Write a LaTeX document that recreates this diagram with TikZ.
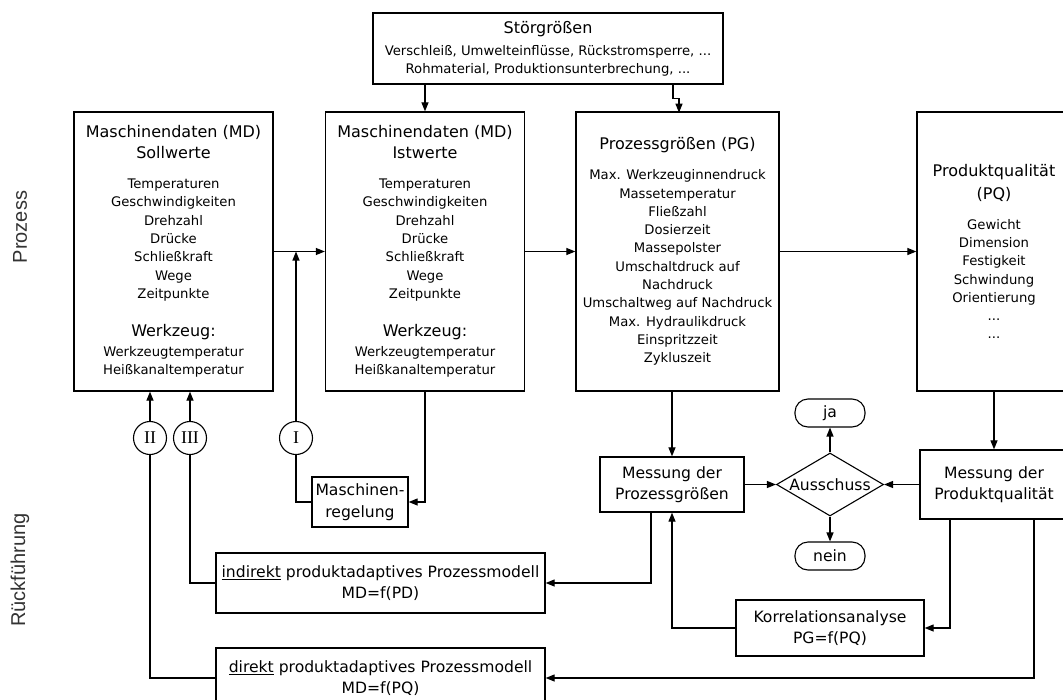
\documentclass[tikz,border=0pt]{standalone}
\usepackage{fontspec}
\setmainfont{DejaVu Sans}
\newfontfamily\seitenfont{Liberation Sans}
\newfontfamily\roemfont{Liberation Serif}
\usetikzlibrary{arrows.meta,shapes.geometric}
\newcommand\klein{\fontsize{13.2}{18.3}\selectfont}
\newcommand\gross{\fontsize{16}{20.7}\selectfont}
\newcommand\mittel{\fontsize{15.6}{21.5}\selectfont}

\begin{document}
\begin{tikzpicture}[x=1pt,y=-1pt,
    feld/.style={draw,line width=1.3pt,align=center,inner sep=0pt,font=\mittel},
    spalte/.style={feld,font=\klein,minimum width=199pt,minimum height=279pt},
    kreis/.style={draw,circle,line width=1.1pt,minimum size=33pt,inner sep=0pt,
      font=\roemfont\fontsize{18}{18}\selectfont},
    raute/.style={draw,diamond,line width=1.1pt,minimum width=107pt,minimum height=63pt,
      inner sep=0pt,font=\mittel},
    ende/.style={draw,line width=1.1pt,rounded corners=13pt,minimum width=70pt,
      minimum height=28pt,inner sep=0pt,font=\mittel},
    seite/.style={rotate=90,text=black!80,font=\seitenfont\fontsize{20}{24}\selectfont}]
  \useasboundingbox (0,0) rectangle (1063,699);
  \node[seite] (prozess) at (20,227) {Prozess};
  \node[seite] (rueck) at (20,570) {Rückführung};
  \node[feld,font=\klein,minimum width=350pt,minimum height=71pt] (stoer) at (548,48.5)
    {{\gross Störgrößen}\\[3.7pt]
     Verschleiß, Umwelteinflüsse, Rückstromsperre, ...\\
     Rohmaterial, Produktionsunterbrechung, ...};
  \node[spalte] (soll) at (173.5,251.5)
    {{\gross Maschinendaten (MD)}\\[2.7pt]
     {\gross Sollwerte}\\[11.7pt]
     Temperaturen\\ Geschwindigkeiten\\ Drehzahl\\ Drücke\\
     Schließkraft\\ Wege\\ Zeitpunkte\\[19.7pt]
     {\gross Werkzeug:}\\[1.7pt]
     Werkzeugtemperatur\\ Heißkanaltemperatur};
  \node[spalte] (ist) at (425,251.5)
    {{\gross Maschinendaten (MD)}\\[2.7pt]
     {\gross Istwerte}\\[11.7pt]
     Temperaturen\\ Geschwindigkeiten\\ Drehzahl\\ Drücke\\
     Schließkraft\\ Wege\\ Zeitpunkte\\[19.7pt]
     {\gross Werkzeug:}\\[1.7pt]
     Werkzeugtemperatur\\ Heißkanaltemperatur};
  \node[spalte,minimum width=203pt] (pg) at (677.5,251.5)
    {{\gross Prozessgrößen (PG)}\\[11.7pt]
     Max. Werkzeuginnendruck\\ Massetemperatur\\ Fließzahl\\ Dosierzeit\\
     Massepolster\\ Umschaltdruck auf\\ Nachdruck\\ Umschaltweg auf Nachdruck\\
     Max. Hydraulikdruck\\ Einspritzzeit\\ Zykluszeit};
  \node[spalte,minimum width=154pt] (pq) at (994,251.5)
    {{\gross Produktqualität}\\[4.7pt]
     {\gross (PQ)}\\[11.7pt]
     Gewicht\\ Dimension\\ Festigkeit\\ Schwindung\\ Orientierung\\ ...\\ ...};
  \node[kreis] (kII) at (150,438) {II};
  \node[kreis] (kIII) at (190,438) {III};
  \node[kreis] (kI) at (296,438) {I};
  \node[feld,minimum width=96pt,minimum height=50pt] (regel) at (360,502)
    {Maschinen-\\regelung};
  \node[feld,minimum width=329pt,minimum height=60pt] (indirekt) at (380.5,583)
    {\underline{indirekt} produktadaptives Prozessmodell\\MD=f(PD)};
  \node[feld,minimum width=329pt,minimum height=60pt] (direkt) at (380.5,678)
    {\underline{direkt} produktadaptives Prozessmodell\\MD=f(PQ)};
  \node[feld,minimum width=144pt,minimum height=55pt] (mpg) at (672,484.5)
    {Messung der\\Prozessgrößen};
  \node[feld,minimum width=148pt,minimum height=69pt] (mpq) at (994,484.5)
    {Messung der\\Produktqualität};
  \node[feld,minimum width=188pt,minimum height=56pt] (korr) at (830,628)
    {Korrelationsanalyse\\PG=f(PQ)};
  \node[raute] (aus) at (830,484.5) {\makebox[0pt]{Ausschuss}};
  \node[ende] (ja) at (830,413) {ja};
  \node[ende] (nein) at (830,556) {nein};
  \begin{scope}[line width=1.2pt,-{Triangle[length=9pt,width=7pt]}]
    \draw (stoer.south -| ist.north) to (ist.north);
    \draw ([xshift=125pt]stoer.south) -- ++(0,14) -- ++(6,0) -- ++(0,14);
    \draw (soll) to (ist);
    \draw (ist) to (pg);
    \draw (pg) to (pq);
    \draw (kI) to (kI |- soll.east);
    \draw (kII) to (kII |- soll.south);
    \draw (kIII) to (kIII |- soll.south);
    \draw (ist.south) |- (regel);
    \draw (mpg.north |- pg.south) to (mpg);
    \draw ([xshift=-21pt]mpg.south) |- (indirekt);
    \draw (korr) -| (mpg);
    \draw (mpg) to (aus);
    \draw (mpq) to (aus);
    \draw (aus) to (ja);
    \draw (aus) to (nein);
    \draw (pq) to (mpq);
    \draw ([xshift=-44pt]mpq.south) |- (korr);
    \draw ([xshift=40pt]mpq.south) |- (direkt);
  \end{scope}
  \begin{scope}[line width=1.2pt,-]
    \draw (kI) |- (regel);
    \draw (indirekt) -| (kIII);
    \draw (direkt) -| (kII);
  \end{scope}
\end{tikzpicture}
\end{document}
